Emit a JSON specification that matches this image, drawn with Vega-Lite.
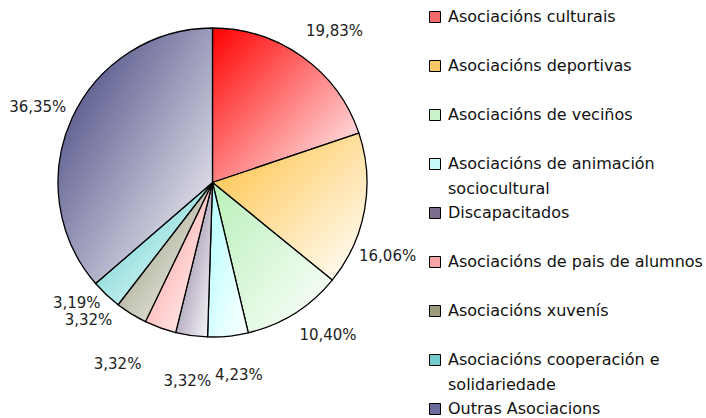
{
  "$schema": "https://vega.github.io/schema/vega-lite/v6.json",
  "width": 415,
  "height": 355,
  "background": "white",
  "config": {"view": {"stroke": null}},
  "data": {
    "values": [
      {"n": 1, "cat": "Asociacións culturais", "pct": 19.83, "lab": "19,83%"},
      {"n": 2, "cat": "Asociacións deportivas", "pct": 16.06, "lab": "16,06%"},
      {"n": 3, "cat": "Asociacións de veciños", "pct": 10.40, "lab": "10,40%"},
      {"n": 4, "cat": "Asociacións de animación sociocultural", "pct": 4.23, "lab": "4,23%"},
      {"n": 5, "cat": "Discapacitados", "pct": 3.32, "lab": "3,32%"},
      {"n": 6, "cat": "Asociacións de pais de alumnos", "pct": 3.32, "lab": "3,32%"},
      {"n": 7, "cat": "Asociacións xuvenís", "pct": 3.32, "lab": "3,32%"},
      {"n": 8, "cat": "Asociacións cooperación e solidariedade", "pct": 3.19, "lab": "3,19%"},
      {"n": 9, "cat": "Outras Asociacions", "pct": 36.35, "lab": "36,35%"}
    ]
  },
  "encoding": {
    "theta": {"field": "pct", "type": "quantitative", "stack": true},
    "order": {"field": "n", "type": "quantitative"}
  },
  "layer": [
    {
      "mark": {"type": "arc", "outerRadius": 154.5},
      "encoding": {
        "color": {
          "field": "cat",
          "type": "nominal",
          "scale": {
            "domain": ["Asociacións culturais", "Asociacións deportivas", "Asociacións de veciños", "Asociacións de animación sociocultural", "Discapacitados", "Asociacións de pais de alumnos", "Asociacións xuvenís", "Asociacións cooperación e solidariedade", "Outras Asociacions"],
            "range": ["#f26a6a", "#f5c868", "#c8f2c8", "#c8f8f8", "#7e6e8e", "#f8a4a4", "#9c9c7c", "#74caca", "#6c6c9c"]
          },
          "legend": {
            "title": null,
            "orient": "right",
            "offset": 3,
            "padding": 4,
            "symbolType": "square",
            "symbolSize": 121,
            "symbolStrokeColor": "#000",
            "symbolStrokeWidth": 1,
            "labelFont": "DejaVu Sans",
            "labelFontSize": 16,
            "labelColor": "#111",
            "labelLimit": 300,
            "labelOffset": 5,
            "labelBaseline": "top",
            "gridAlign": "all",
            "rowPadding": 8,
            "labelExpr": "datum.label == 'Asociacións de animación sociocultural' ? ['Asociacións de animación', 'sociocultural'] : datum.label == 'Asociacións cooperación e solidariedade' ? ['Asociacións cooperación e', 'solidariedade'] : datum.label",
            "encode": {"labels": {"update": {"dy": {"value": -8}, "lineHeight": {"value": 25}}}}
          }
        }
      }
    },
    {
      "mark": {"type": "arc", "outerRadius": 154.5, "stroke": "#000", "strokeWidth": 1.3},
      "encoding": {
        "detail": {"field": "cat"},
        "fill": {
          "condition": [
            {"test": "datum.n == 1", "value": {"gradient": "linear", "x1": 0, "y1": 0, "x2": 1, "y2": 1, "stops": [{"offset": 0, "color": "#ff0000"}, {"offset": 1, "color": "#ffffff"}]}},
            {"test": "datum.n == 2", "value": {"gradient": "linear", "x1": 0, "y1": 0, "x2": 1, "y2": 1, "stops": [{"offset": 0, "color": "#ffc040"}, {"offset": 1, "color": "#ffffff"}]}},
            {"test": "datum.n == 3", "value": {"gradient": "linear", "x1": 0, "y1": 0, "x2": 1, "y2": 1, "stops": [{"offset": 0, "color": "#b8f0b8"}, {"offset": 1, "color": "#ffffff"}]}},
            {"test": "datum.n == 4", "value": {"gradient": "linear", "x1": 0, "y1": 0, "x2": 1, "y2": 1, "stops": [{"offset": 0, "color": "#b0ffff"}, {"offset": 1, "color": "#ffffff"}]}},
            {"test": "datum.n == 5", "value": {"gradient": "linear", "x1": 0, "y1": 0, "x2": 1, "y2": 1, "stops": [{"offset": 0, "color": "#76668c"}, {"offset": 1, "color": "#ffffff"}]}},
            {"test": "datum.n == 6", "value": {"gradient": "linear", "x1": 0, "y1": 0, "x2": 1, "y2": 1, "stops": [{"offset": 0, "color": "#ff9090"}, {"offset": 1, "color": "#ffffff"}]}},
            {"test": "datum.n == 7", "value": {"gradient": "linear", "x1": 0, "y1": 0, "x2": 1, "y2": 1, "stops": [{"offset": 0, "color": "#8c8c6c"}, {"offset": 1, "color": "#ffffff"}]}},
            {"test": "datum.n == 8", "value": {"gradient": "linear", "x1": 0, "y1": 0, "x2": 1, "y2": 1, "stops": [{"offset": 0, "color": "#55cccc"}, {"offset": 1, "color": "#ffffff"}]}}
          ],
          "value": {"gradient": "linear", "x1": 0, "y1": 0, "x2": 1, "y2": 1, "stops": [{"offset": 0, "color": "#3a3a78"}, {"offset": 1, "color": "#ffffff"}]}
        }
      }
    },
    {"mark": {"type": "text", "radius": 192, "dx": 10, "dy": 4, "font": "DejaVu Sans", "fontSize": 15, "fill": "#222"},
     "encoding": {"detail": {"field": "cat"}, "text": {"condition": {"test": "datum.n == 1", "field": "lab", "type": "nominal"}, "value": ""}}},
    {"mark": {"type": "text", "radius": 180, "dx": -2, "dy": 41, "font": "DejaVu Sans", "fontSize": 15, "fill": "#222"},
     "encoding": {"detail": {"field": "cat"}, "text": {"condition": {"test": "datum.n == 2", "field": "lab", "type": "nominal"}, "value": ""}}},
    {"mark": {"type": "text", "radius": 191, "dx": 14, "dy": -9, "font": "DejaVu Sans", "fontSize": 15, "fill": "#222"},
     "encoding": {"detail": {"field": "cat"}, "text": {"condition": {"test": "datum.n == 3", "field": "lab", "type": "nominal"}, "value": ""}}},
    {"mark": {"type": "text", "radius": 193, "dx": 7, "dy": 0, "font": "DejaVu Sans", "fontSize": 15, "fill": "#222"},
     "encoding": {"detail": {"field": "cat"}, "text": {"condition": {"test": "datum.n == 4", "field": "lab", "type": "nominal"}, "value": ""}}},
    {"mark": {"type": "text", "radius": 200, "dx": 2, "dy": 0, "font": "DejaVu Sans", "fontSize": 15, "fill": "#222"},
     "encoding": {"detail": {"field": "cat"}, "text": {"condition": {"test": "datum.n == 5", "field": "lab", "type": "nominal"}, "value": ""}}},
    {"mark": {"type": "text", "radius": 195, "dx": -29, "dy": -2, "font": "DejaVu Sans", "fontSize": 15, "fill": "#222"},
     "encoding": {"detail": {"field": "cat"}, "text": {"condition": {"test": "datum.n == 6", "field": "lab", "type": "nominal"}, "value": ""}}},
    {"mark": {"type": "text", "radius": 175, "dx": -32, "dy": -11, "font": "DejaVu Sans", "fontSize": 15, "fill": "#222"},
     "encoding": {"detail": {"field": "cat"}, "text": {"condition": {"test": "datum.n == 7", "field": "lab", "type": "nominal"}, "value": ""}}},
    {"mark": {"type": "text", "radius": 180, "dx": -12, "dy": -10, "font": "DejaVu Sans", "fontSize": 15, "fill": "#222"},
     "encoding": {"detail": {"field": "cat"}, "text": {"condition": {"test": "datum.n == 8", "field": "lab", "type": "nominal"}, "value": ""}}},
    {"mark": {"type": "text", "radius": 190, "dx": -2, "dy": 4, "font": "DejaVu Sans", "fontSize": 15, "fill": "#222"},
     "encoding": {"detail": {"field": "cat"}, "text": {"condition": {"test": "datum.n == 9", "field": "lab", "type": "nominal"}, "value": ""}}}
  ]
}
